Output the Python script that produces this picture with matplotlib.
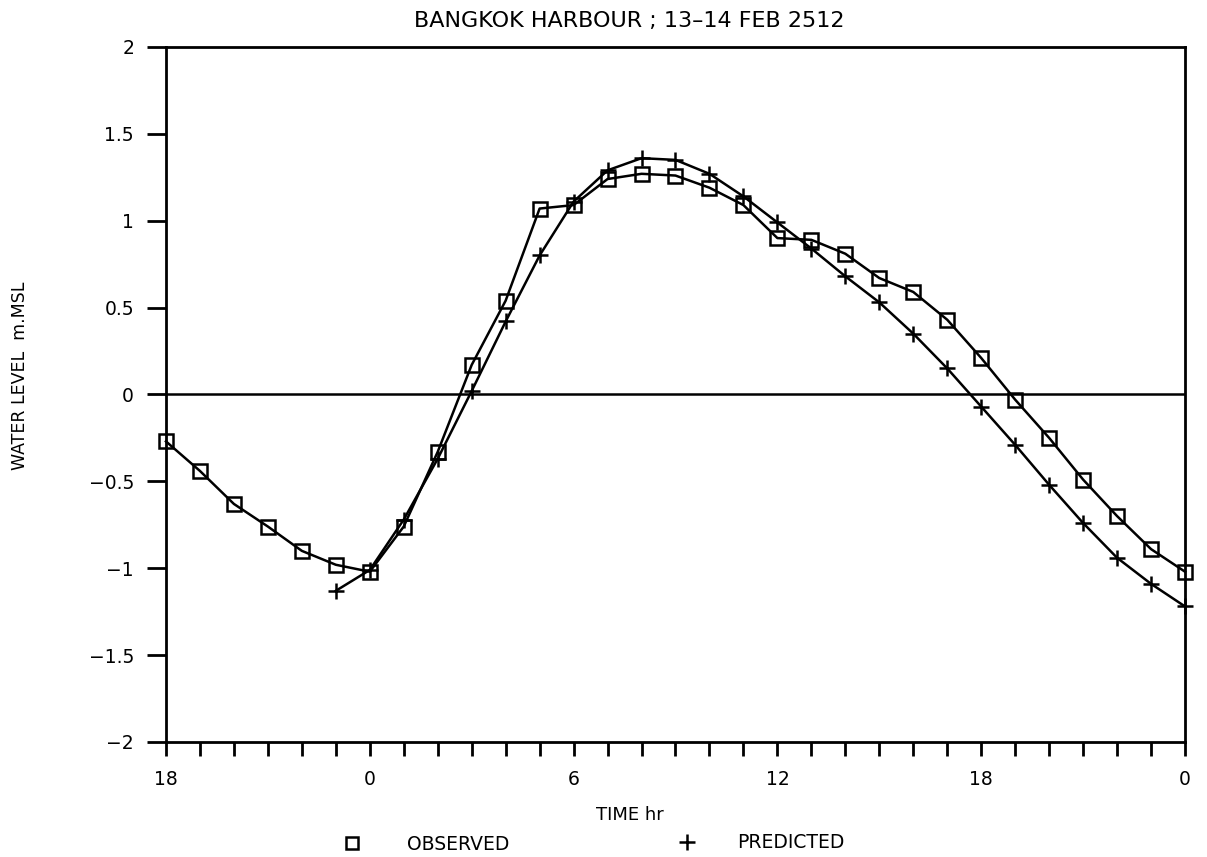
import matplotlib
matplotlib.use("Agg")
import matplotlib.pyplot as plt
from matplotlib.lines import Line2D

# hours counted from 18:00 on the 13th
hours_obs = list(range(0, 31))
observed = [-0.27, -0.44, -0.63, -0.76, -0.90, -0.98, -1.02, -0.76, -0.33, 0.17,
            0.54, 1.07, 1.09, 1.24, 1.27, 1.26, 1.19, 1.09, 0.90, 0.89,
            0.81, 0.67, 0.59, 0.43, 0.21, -0.03, -0.25, -0.49, -0.70, -0.89, -1.02]

hours_pred = list(range(5, 31))
predicted = [-1.13, -1.01, -0.72, -0.37, 0.02, 0.42, 0.80, 1.11, 1.29, 1.36,
             1.35, 1.27, 1.14, 0.99, 0.84, 0.68, 0.53, 0.35, 0.15, -0.07,
             -0.29, -0.52, -0.74, -0.94, -1.09, -1.22]

tick_pos = [0, 6, 12, 18, 24, 30]
tick_labels = ["18", "0", "6", "12", "18", "0"]
y_ticks = [-2, -1.5, -1, -0.5, 0, 0.5, 1, 1.5, 2]
y_labels = ["\u22122", "\u22121.5", "\u22121", "\u22120.5", "0", "0.5", "1", "1.5", "2"]

plt.rcParams['font.family'] = ['DejaVu Sans']

fig = plt.figure(figsize=(12.07, 8.57), dpi=100)
ax = fig.add_axes([0.1375, 0.1342, 0.8443, 0.811])

ax.axhline(0, color='black', lw=1.8, zorder=1)
ax.plot(hours_obs, observed, color='black', lw=1.8, marker='s', markersize=10,
        markerfacecolor='none', markeredgewidth=1.8, zorder=3, clip_on=False)
ax.plot(hours_pred, predicted, color='black', lw=1.8, marker='+', markersize=12,
        markeredgewidth=1.8, zorder=3, clip_on=False)

ax.set_xlim(0, 30)
ax.set_ylim(-2, 2)
ax.set_xticks(tick_pos)
ax.set_xticklabels(tick_labels)
ax.set_xticks(range(0, 31), minor=True)
ax.set_yticks(y_ticks)
ax.set_yticklabels(y_labels)

ax.tick_params(axis='x', which='both', direction='out', length=10, width=2,
               labelsize=13.5, pad=10)
ax.tick_params(axis='y', direction='out', length=14, width=2, labelsize=13.5, pad=9)
for s in ax.spines.values():
    s.set_linewidth(2)

fig.text(629 / 1207, 1 - 21 / 857, "BANGKOK HARBOUR ; 13\u201314 FEB 2512",
         fontsize=16, ha='center', va='center')
fig.text(630 / 1207, 1 - 815 / 857, "TIME hr", fontsize=13, ha='center', va='center')
fig.text(20 / 1207, 1 - 376 / 857, "WATER LEVEL  m.MSL", fontsize=12.5,
         rotation=90, ha='center', va='center')

h_obs = Line2D([], [], color='black', linestyle='none', marker='s', markersize=9,
               markerfacecolor='none', markeredgewidth=1.8)
h_pred = Line2D([], [], color='black', linestyle='none', marker='+', markersize=11,
                markeredgewidth=1.8)
leg1 = fig.legend(handles=[h_obs], labels=['OBSERVED'], loc='center left',
                  bbox_to_anchor=(342.6 / 1207, 1 - 844 / 857), frameon=False,
                  fontsize=13.5, handlelength=1.0, handletextpad=2.43,
                  borderpad=0, borderaxespad=0)
leg2 = fig.legend(handles=[h_pred], labels=['PREDICTED'], loc='center left',
                  bbox_to_anchor=(677.6 / 1207, 1 - 843 / 857), frameon=False,
                  fontsize=13.5, handlelength=1.0, handletextpad=2.17,
                  borderpad=0, borderaxespad=0)

fig.savefig("out.png", dpi=100, facecolor='white')
